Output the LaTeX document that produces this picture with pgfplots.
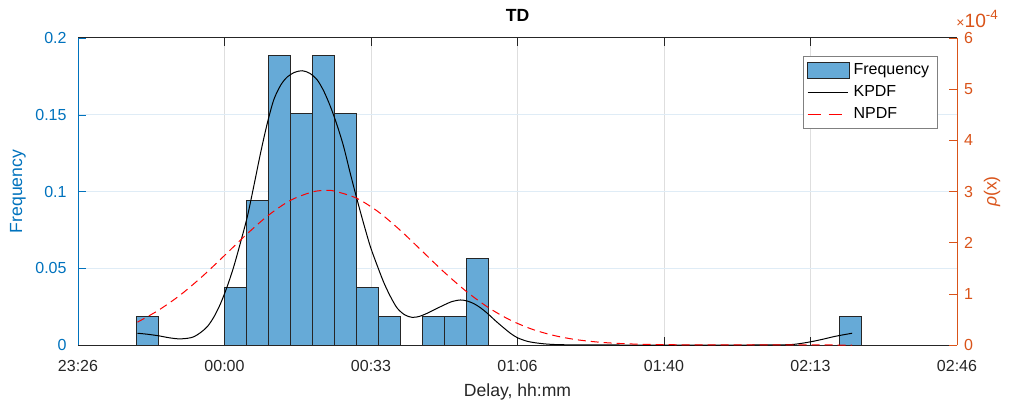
\documentclass[border=0pt]{standalone}
\usepackage{fontspec}
\setmainfont{Liberation Sans}
\usepackage{pgfplots}
\pgfplotsset{compat=1.18}
\definecolor{mblue}{RGB}{0,114,189}
\definecolor{morange}{RGB}{217,83,25}
\definecolor{mgray}{RGB}{38,38,38}
\definecolor{barfill}{RGB}{102,170,215}
\definecolor{ygrid}{RGB}{223,236,246}
\definecolor{xgrid}{RGB}{222,222,222}

\newcommand\tickfont{\fontsize{8}{9.6}\selectfont}
\newcommand\labfont{\fontsize{8.8}{10.5}\selectfont}

\pgfplotsset{
  tdbase/.style={
    scale only axis, width=439.5pt, height=153.5pt,
    xmin=-33.333, xmax=166.667,
    tick align=inside, major tick length=4pt,
    /pgf/number format/assume math mode=true,
    tick label style={font=\tickfont},
    label style={font=\labfont},
    every axis plot/.append style={line width=0.5pt},
  }
}

\begin{document}
\begin{tikzpicture}
% left axis: histogram
\begin{axis}[tdbase, name=ax,
  ymin=0, ymax=0.2, ytick={0,0.05,0.1,0.15,0.2},
  scaled y ticks=false,
  yticklabel style={/pgf/number format/fixed, /pgf/number format/precision=2, color=mblue, xshift=-2.2pt},
  axis y line*=left,
  y axis line style={color=mblue, line width=0.5pt},
  ytick style={color=mblue},
  x axis line style={color=mgray, line width=0.5pt},
  xtick style={color=mgray},
  xticklabel style={color=mgray, yshift=-4.3pt},
  xtick={-33.333,0,33.333,66.667,100,133.333,166.667},
  xticklabels={23:26,00:00,00:33,01:06,01:40,02:13,02:46},
  xmajorgrids, ymajorgrids,
  major x grid style={xgrid, line width=0.5pt},
  major y grid style={ygrid, line width=0.5pt},
  xlabel={Delay, hh:mm},
  xlabel style={color=mgray, at={(rel axis cs:0.5,-0.1518)}, anchor=center},
  ylabel={Frequency},
  ylabel style={color=mblue, at={(rel axis cs:-0.0683,0.5)}, anchor=center},
  title={TD},
  title style={font=\labfont\bfseries, at={(rel axis cs:0.5,1.0358)}, anchor=center},
]
\addplot[ybar, bar width=5, fill=barfill, draw=black!85] coordinates {
  (-17.5,0.018868) (2.5,0.037736) (7.5,0.09434) (12.5,0.188679)
  (17.5,0.150943) (22.5,0.188679) (27.5,0.150943) (32.5,0.037736)
  (37.5,0.018868) (47.5,0.018868) (52.5,0.018868) (57.5,0.056604)
  (142.5,0.018868)
};
\end{axis}

% right axis: densities
\begin{axis}[tdbase,
  axis y line*=right, axis x line=none,
  ymin=0, ymax=6e-4, ytick={0,1e-4,2e-4,3e-4,4e-4,5e-4,6e-4},
  scaled y ticks=base 10:4,
  ytick scale label code/.code={{\fontsize{7}{8}\selectfont×}10\textsuperscript{-4}},
  every y tick scale label/.style={at={(rel axis cs:1,1)}, anchor=south west,
    inner sep=0pt, xshift=-0.5pt, yshift=5.2pt, color=morange,
    font=\fontsize{9.6}{11}\selectfont},
  yticklabel style={color=morange},
  y axis line style={color=morange, line width=0.5pt},
  ytick style={color=morange},
  ylabel={{\itshape ρ}(x)},
  ylabel style={color=morange, at={(rel axis cs:1.0398,0.5)}, anchor=center},
  legend image code/.code={\draw[#1] (0pt,0pt) -- (20pt,0pt);},
  legend cell align=left,
  legend style={at={(0.978,0.942)}, anchor=north east, draw=black!50,
    line width=0.5pt, font=\tickfont, inner xsep=2pt, inner ysep=1.5pt,
    row sep=0pt},
]
\addlegendimage{legend image code/.code={\draw[fill=barfill, draw=black!85] (0pt,-4pt) rectangle (20.7pt,4pt);}}
\addlegendentry{Frequency}
\addplot[black, smooth] coordinates {
  (-19.8,0.23e-4) (-17.5,0.21e-4) (-15,0.18e-4) (-12.5,0.14e-4) (-10.4,0.12e-4)
  (-8.5,0.13e-4) (-7,0.16e-4) (-5.5,0.24e-4) (-3.9,0.36e-4) (-2.4,0.55e-4)
  (-0.9,0.81e-4) (0.6,1.14e-4) (2.1,1.53e-4) (3.6,1.99e-4) (5.2,2.51e-4)
  (6.7,3.12e-4) (8.2,3.75e-4) (9.7,4.32e-4) (11.2,4.79e-4) (12.8,5.08e-4)
  (14.3,5.24e-4) (16,5.33e-4) (17.7,5.36e-4) (19.4,5.31e-4) (21.1,5.18e-4)
  (22.6,4.96e-4) (24.1,4.66e-4) (25.6,4.30e-4) (27.1,3.88e-4) (28.6,3.36e-4)
  (30.2,2.83e-4) (31.7,2.36e-4) (33.2,1.92e-4) (34.8,1.54e-4) (36.3,1.21e-4)
  (37.8,0.94e-4) (39.3,0.72e-4) (41,0.59e-4) (42.7,0.54e-4) (44.4,0.56e-4)
  (46.1,0.62e-4) (48,0.70e-4) (49.9,0.78e-4) (51.8,0.85e-4) (53.7,0.88e-4)
  (55.2,0.86e-4) (56.7,0.81e-4) (58.2,0.73e-4) (59.8,0.62e-4) (61.7,0.47e-4)
  (63.6,0.33e-4) (65.2,0.22e-4) (66.7,0.14e-4) (69,0.07e-4) (71.9,0.03e-4)
  (75,0.01e-4) (80,0.002e-4) (90,0) (120,0) (126,0.003e-4) (129.5,0.012e-4)
  (133.2,0.06e-4) (136,0.11e-4) (139,0.17e-4) (142.8,0.23e-4)
};
\addlegendentry{KPDF}
\addplot[red, dash pattern=on 4pt off 2.5pt, smooth,
  legend image code/.code={\draw[red, line width=0.5pt, dash pattern=on 6.5pt off 4pt] (0pt,0pt) -- (20pt,0pt);}] coordinates {
  (-19.8,0.447e-4) (-15,0.680e-4) (-10,0.981e-4) (-5,1.344e-4) (0,1.749e-4)
  (5,2.161e-4) (10,2.536e-4) (15,2.827e-4) (20,2.992e-4) (23,3.02e-4)
  (25,3.008e-4) (30,2.871e-4) (35,2.603e-4) (40,2.241e-4) (45,1.832e-4)
  (50,1.422e-4) (55,1.049e-4) (60,0.734e-4) (65,0.488e-4) (70,0.308e-4)
  (75,0.185e-4) (80,0.105e-4) (85,0.057e-4) (90,0.029e-4) (95,0.014e-4)
  (100,0.0066e-4) (110,0.0012e-4) (120,0.0002e-4) (142.8,0)
};
\addlegendentry{NPDF}
\end{axis}
\pgfresetboundingbox
\path ([shift={(-39pt,-30.5pt)}]ax.south west) rectangle ([shift={(26pt,19pt)}]ax.north east);
\end{tikzpicture}
\end{document}
